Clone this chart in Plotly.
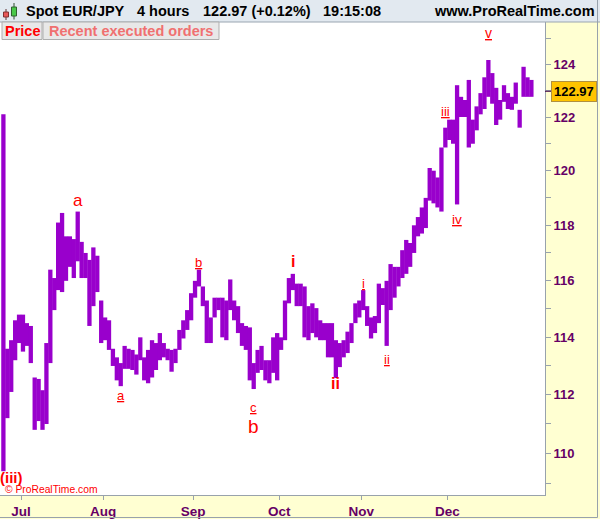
import math
import pandas as pd
import plotly.graph_objects as go

# ---------------- data ----------------
trade_days = pd.bdate_range("2016-06-24", "2016-12-30")

day_high = [
    122.1, 113.6, 113.9, 114.6, 114.8,
    114.8, 114.5, 114.4, 112.6, 112.55, 112.16, 113.8, 116.4, 116.1, 118.1,
    118.45, 117.6, 117.6, 117.5, 118.5, 117.4, 117.0, 116.75, 117.2, 116.9,
    115.3, 114.7, 114.6, 113.6, 113.3, 113.1, 113.7, 113.6, 113.56, 113.4,
    114.0, 113.3, 113.56, 113.9, 113.8, 114.15, 113.8, 113.6, 113.56, 113.6,
    114.26, 114.6, 114.96, 115.56, 116.0, 116.4, 115.8, 115.3, 114.7, 115.4,
    115.4, 115.4, 115.3, 116.05, 115.3, 115.1, 114.5, 114.4, 114.35, 113.1,
    113.56, 113.7, 113.2, 113.2, 114.0, 114.15, 114.0, 115.3, 116.1, 116.25,
    115.9, 115.9, 115.8, 115.1, 115.2, 115.03, 114.6, 114.5, 114.5, 114.5,
    113.9, 113.8, 113.9, 114.2, 114.5, 115.2, 115.3, 115.67, 115.1, 114.7,
    114.75, 115.9, 115.74, 116.0, 116.6, 116.5, 116.5, 117.1, 117.47, 117.36,
    118.0, 118.3, 118.65, 119.0, 120.1, 120.0, 119.75, 120.86, 121.6, 121.9,
    121.9, 123.2, 122.76, 122.64, 123.4, 121.9, 122.4, 122.9, 123.5, 124.16,
    123.66, 123.1, 122.64, 123.2, 122.9, 122.76, 123.3, 122.27, 123.9, 123.5,
    123.4,
]
day_low = [
    109.4, 111.2, 112.1, 113.2, 113.8,
    113.5, 113.7, 113.1, 110.8, 111.1, 110.8, 111.0, 113.1, 114.96, 115.67,
    115.6, 116.0, 116.5, 116.1, 116.7, 116.1, 116.1, 114.4, 115.1, 115.6,
    113.8, 113.9, 113.56, 113.0, 112.5, 112.3, 112.9, 112.9, 112.86, 112.7,
    113.2, 112.5, 112.4, 112.6, 112.86, 113.2, 113.3, 113.2, 112.8, 113.1,
    113.56, 113.96, 114.26, 114.6, 115.4, 115.8, 115.1, 113.8, 113.8, 114.7,
    114.96, 114.0, 113.9, 114.96, 114.6, 114.15, 113.7, 113.56, 112.5, 112.2,
    112.76, 112.86, 112.5, 112.4, 112.76, 112.5, 113.56, 113.9, 115.2, 115.67,
    115.1, 115.1, 114.0, 113.9, 114.15, 114.0, 113.9, 113.9, 113.3, 113.3,
    112.58, 112.96, 113.3, 113.45, 113.8, 114.5, 114.7, 114.96, 114.4, 113.96,
    114.15, 114.5, 115.14, 113.7, 114.96, 115.4, 115.8, 116.1, 116.25, 116.5,
    117.0, 117.6, 117.7, 117.9, 118.9, 118.8, 118.65, 118.5, 120.86, 121.14,
    121.0, 118.76, 122.0, 122.0, 120.86, 121.0, 121.5, 122.1, 122.3, 122.76,
    122.5, 121.7, 121.9, 122.57, 122.3, 122.27, 122.5, 121.6, 122.76, 122.76,
    122.76,
]

month_labels = ["Jul", "Aug", "Sep", "Oct", "Nov", "Dec"]
month_numbers = [7, 8, 9, 10, 11, 12]
price_ticks = list(range(109, 126))
last_price = 122.97

wave_labels = ["a", "a", "b", "c", "b", "i", "ii", "i", "ii", "iii", "iv", "v", "(iii)"]
wave_label_dates = ["2016-07-21", "2016-08-05", "2016-09-02", "2016-09-22", "2016-09-22",
                    "2016-10-06", "2016-10-21", "2016-11-01", "2016-11-09", "2016-11-30",
                    "2016-12-05", "2016-12-15", "2016-06-28"]
wave_label_prices = [118.92, 111.99, 116.65, 111.58, 110.9,
                     116.68, 112.4, 115.9, 113.24, 122.2,
                     118.2, 125.2, 109.2]

# ---------------- geometry helpers (pixel -> paper) ----------------
W, H = 600, 519
PL, PR, PT, PB = 0, 545, 22, 495
def px(x):
    return (x - PL) / (PR - PL)
def py(y):
    return (PB - y) / (PB - PT)

idx = list(range(-5, len(trade_days) - 5))  # Jul 1 2016 -> 0

# bar segments
xs, ys = [], []
for i, hi, lo in zip(idx, day_high, day_low):
    xs += [i, i, None]
    ys += [lo, hi, None]

fig = go.Figure()
fig.add_trace(go.Scatter(x=xs, y=ys, mode="lines",
                         line=dict(color="#9900CC", width=4.3),
                         hoverinfo="skip", showlegend=False))

# month tick positions
month_pos = []
for m in month_numbers:
    first = [k for k, d in zip(idx, trade_days) if d.month == m][0]
    month_pos.append(first - 0.5)

axis_col = "#98A2AC"
tick_font = dict(family="Liberation Sans, Arial, sans-serif", size=13.5, color="#660066", weight="bold")

fig.update_layout(
    width=W, height=H, autosize=False,
    margin=dict(l=PL, r=W - PR, t=PT, b=H - PB, pad=0),
    paper_bgcolor="#FFFFD2", plot_bgcolor="#FFFFFF",
    showlegend=False,
    xaxis=dict(range=[-5.87, 133.48], tickmode="array", tickvals=month_pos, ticktext=month_labels,
               ticks="outside", ticklen=4, tickcolor=axis_col, showline=True, linecolor=axis_col,
               linewidth=1, showgrid=False, zeroline=False, tickfont=tick_font, fixedrange=True),
    yaxis=dict(type="log", range=[math.log10(108.6), math.log10(125.62)], side="right",
               tickmode="array", tickvals=price_ticks,
               ticktext=[str(v) if v % 2 == 0 else "" for v in price_ticks],
               ticks="outside", ticklen=5, tickcolor=axis_col, showline=True, linecolor=axis_col,
               linewidth=1, showgrid=False, zeroline=False,
               tickfont=dict(family="Liberation Sans, Arial, sans-serif", size=13, color="#660066", weight="bold"),
               fixedrange=True),
)

shapes = []
# header band
shapes.append(dict(type="rect", xref="paper", yref="paper", x0=px(0), x1=px(600), y0=py(22), y1=py(0),
                   fillcolor="#E2E9F0", line=dict(width=0), layer="above"))
shapes.append(dict(type="line", xref="paper", yref="paper", x0=px(0), x1=px(600), y0=py(22), y1=py(22),
                   line=dict(color="#9AA5B1", width=1), layer="above"))
# candle icon
shapes.append(dict(type="line", xref="paper", yref="paper", x0=px(6), x1=px(6), y0=py(20), y1=py(9),
                   line=dict(color="#603030", width=1), layer="above"))
shapes.append(dict(type="rect", xref="paper", yref="paper", x0=px(3.5), x1=px(8.5), y0=py(17), y1=py(12),
                   fillcolor="#E85858", line=dict(color="#803030", width=1), layer="above"))
shapes.append(dict(type="line", xref="paper", yref="paper", x0=px(14), x1=px(14), y0=py(19.5), y1=py(3),
                   line=dict(color="#305030", width=1), layer="above"))
shapes.append(dict(type="rect", xref="paper", yref="paper", x0=px(11.5), x1=px(16.5), y0=py(16), y1=py(7),
                   fillcolor="#48C848", line=dict(color="#306030", width=1), layer="above"))
# tabs
shapes.append(dict(type="rect", xref="paper", yref="paper", x0=px(2), x1=px(42), y0=py(39.5), y1=py(22),
                   fillcolor="#E8E8E8", line=dict(color="#AEAEAE", width=1), layer="above"))
shapes.append(dict(type="rect", xref="paper", yref="paper", x0=px(43), x1=px(219), y0=py(39.5), y1=py(22),
                   fillcolor="#E8E8E8", line=dict(color="#AEAEAE", width=1), layer="above"))
# outer frame (right / bottom)
shapes.append(dict(type="line", xref="paper", yref="paper", x0=px(597.5), x1=px(597.5), y0=py(0), y1=py(517.5),
                   line=dict(color="#98A2AC", width=1), layer="above"))
shapes.append(dict(type="line", xref="paper", yref="paper", x0=px(0), x1=px(597.5), y0=py(517.5), y1=py(517.5),
                   line=dict(color="#98A2AC", width=1), layer="above"))
# current-price marker on the axis
shapes.append(dict(type="line", xref="paper", yref="y", x0=px(545), x1=px(551),
                   y0=last_price, y1=last_price, line=dict(color="#400040", width=1), layer="above"))
fig.update_layout(shapes=shapes)

hdr_font = dict(family="Liberation Sans, Arial, sans-serif", size=14.5, color="#000000", weight="bold")
ann = []
for txt, x in [("Spot EUR/JPY", 24), ("4 hours", 135), ("122.97 (+0.12%)", 201), ("19:15:08", 321)]:
    ann.append(dict(xref="paper", yref="paper", x=px(x), y=py(11), text=txt, showarrow=False,
                    xanchor="left", yanchor="middle", font=hdr_font))
ann.append(dict(xref="paper", yref="paper", x=px(597), y=py(11), text="www.ProRealTime.com", showarrow=False,
                xanchor="right", yanchor="middle", font=hdr_font))
ann.append(dict(xref="paper", yref="paper", x=px(22), y=py(31), text="Price", showarrow=False,
                xanchor="center", yanchor="middle",
                font=dict(family="Liberation Sans, Arial, sans-serif", size=14.5, color="#FF0000", weight="bold")))
ann.append(dict(xref="paper", yref="paper", x=px(131), y=py(31), text="Recent executed orders", showarrow=False,
                xanchor="center", yanchor="middle",
                font=dict(family="Liberation Sans, Arial, sans-serif", size=14.5, color="#F07070", weight="bold")))
ann.append(dict(xref="paper", yref="paper", x=px(3), y=py(489.5), text="© ProRealTime.com", showarrow=False,
                xanchor="left", yanchor="middle",
                font=dict(family="Liberation Sans, Arial, sans-serif", size=10.3, color="#FF0000")))
# current price box
ann.append(dict(xref="paper", yref="y", x=px(551), y=math.log10(last_price), text=f"{last_price:.2f}",
                showarrow=False, xanchor="left", yanchor="middle", bgcolor="#FFC400",
                bordercolor="#B09040", borderwidth=1, borderpad=2,
                font=dict(family="Liberation Sans, Arial, sans-serif", size=13, color="#000000", weight="bold")))

# wave labels (size, bold, underline)
label_fmt = [(17, False, False), (13, False, True), (13, False, True), (13, False, True), (19, False, False),
             (16, True, False), (16, True, False), (13, False, True), (13, False, True), (13, False, True),
             (13.5, False, True), (14, False, True), (15, True, False)]
date_index = {d.strftime("%Y-%m-%d"): k for k, d in zip(idx, trade_days)}
for txt, dstr, pr, (sz, bold, und) in zip(wave_labels, wave_label_dates, wave_label_prices, label_fmt):
    t = f"<u>{txt}</u>" if und else txt
    ann.append(dict(x=date_index[dstr], y=math.log10(pr), text=t, showarrow=False,
                    xanchor="center", yanchor="middle",
                    font=dict(family="Liberation Sans, Arial, sans-serif", size=sz, color="#FF0000",
                              weight="bold" if bold else "normal")))
fig.update_layout(annotations=ann)

fig.write_html("out.html", config={"displayModeBar": False},
               post_script="document.body.style.margin='0';document.body.style.padding='0';")
